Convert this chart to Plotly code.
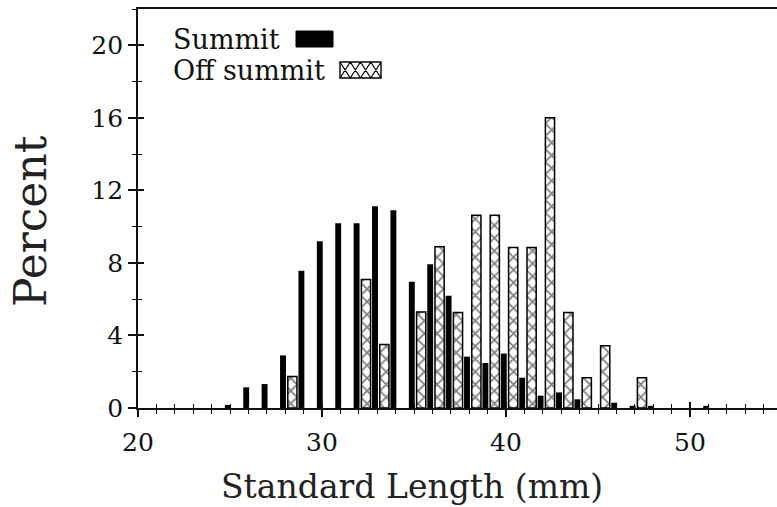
import plotly.graph_objects as go

# ---- data ----
lengths = list(range(25, 52))  # standard length bins, mm
summit_pct = [0.17, 1.14, 1.32, 2.9, 7.57, 9.2, 10.18, 10.18, 11.13, 10.9,
              6.96, 7.93, 6.19, 2.83, 2.48, 3.0, 1.67, 0.68, 0.86, 0.48,
              None, 0.29, 0.12, 0.12, None, None, 0.12]
off_summit_pct = [None, None, None, 1.73, None, None, None, 7.09, 3.5, None,
                  5.3, 8.89, 5.27, 10.63, 10.63, 8.85, 8.85, 16.0, 5.27, 1.67,
                  3.43, None, 1.67, None, None, None, None]
series_names = ["Summit", "Off summit"]
x_tickvals = [20, 30, 40, 50]
y_tickvals = [0, 4, 8, 12, 16, 20]

FONT = "DejaVu Serif"
W, H = 777, 507
ML, MR, MT, MB = 138, 0, 9, 507 - 408
PW, PH = W - ML - MR, H - MT - MB


def px(xp):  # page pixel -> paper fraction
    return (xp - ML) / PW


def py(yp):
    return (H - MB - yp) / PH


fig = go.Figure()
fig.add_trace(go.Bar(
    x=lengths, y=summit_pct, name=series_names[0],
    offset=-0.28, width=0.32,
    marker=dict(color="black", line=dict(width=0)),
    showlegend=False,
))
fig.add_trace(go.Bar(
    x=lengths, y=off_summit_pct, name=series_names[1],
    offset=0.14, width=0.5,
    marker=dict(color="white",
                line=dict(color="black", width=1.5),
                pattern=dict(shape="x", fgcolor="black", bgcolor="white",
                             size=9, solidity=0.35)),
    showlegend=False,
))
# helper trace for the overlay axes (inner halves of the crossing ticks)
fig.add_trace(go.Scatter(x=[None], y=[None], xaxis="x2", yaxis="y2",
                         showlegend=False, hoverinfo="skip"))

tickfont = dict(family=FONT, size=25, color="#111")
xr = [20, 20 + PW / 18.4]
yr = [0, 22]

fig.update_layout(
    width=W, height=H,
    margin=dict(l=ML, r=MR, t=MT, b=MB, autoexpand=False),
    paper_bgcolor="white", plot_bgcolor="white",
    barmode="overlay",
    xaxis=dict(range=xr, tickmode="array", tickvals=x_tickvals,
               ticks="outside", ticklen=7, tickwidth=1.5, tickcolor="#111",
               minor=dict(ticks="outside", ticklen=4, tickwidth=1.2,
                          tickcolor="#111", dtick=1, tick0=20, showgrid=False),
               showline=True, linecolor="#111", linewidth=1.8, mirror=True,
               showgrid=False, zeroline=False, tickfont=tickfont,
               automargin=False, ticklabelstandoff=4),
    yaxis=dict(range=yr, tickmode="array", tickvals=y_tickvals,
               ticks="outside", ticklen=8, tickwidth=1.5, tickcolor="#111",
               minor=dict(ticks="outside", ticklen=4, tickwidth=1.2,
                          tickcolor="#111", dtick=2, tick0=0, showgrid=False),
               showline=True, linecolor="#111", linewidth=1.8,
               showgrid=False, zeroline=False, tickfont=tickfont,
               automargin=False),
    xaxis2=dict(range=xr, overlaying="x", anchor="y", side="bottom",
                tickmode="array", tickvals=x_tickvals,
                ticks="inside", ticklen=6, tickwidth=1.5, tickcolor="#111",
                minor=dict(ticks="inside", ticklen=4, tickwidth=1.2,
                           tickcolor="#111", dtick=1, tick0=20, showgrid=False),
                showticklabels=False, showline=False, showgrid=False,
                zeroline=False),
    yaxis2=dict(range=yr, overlaying="y", anchor="x", side="left",
                tickmode="array", tickvals=y_tickvals,
                ticks="inside", ticklen=6, tickwidth=1.5, tickcolor="#111",
                minor=dict(ticks="inside", ticklen=4, tickwidth=1.2,
                           tickcolor="#111", dtick=2, tick0=0, showgrid=False),
                showticklabels=False, showline=False, showgrid=False,
                zeroline=False),
)

annotations = [
    dict(text="Percent", x=px(30), y=py(221), xref="paper", yref="paper",
         textangle=-90, showarrow=False, xanchor="center", yanchor="middle",
         borderpad=0,
         font=dict(family=FONT, size=44, color="#222")),
    dict(text="Standard Length (mm)", x=px(412), y=py(486), xref="paper",
         yref="paper", showarrow=False, xanchor="center", yanchor="middle",
         font=dict(family=FONT, size=33, color="#222")),
    dict(text=series_names[0], x=px(171), y=py(39), xref="paper", yref="paper",
         showarrow=False, xanchor="left", yanchor="middle",
         font=dict(family=FONT, size=27, color="#111")),
    dict(text=series_names[1], x=px(171), y=py(70), xref="paper", yref="paper",
         showarrow=False, xanchor="left", yanchor="middle",
         font=dict(family=FONT, size=27, color="#111")),
]
fig.update_layout(annotations=annotations)

# legend swatches
shapes = [dict(type="rect", xref="paper", yref="paper",
               x0=px(296), x1=px(333), y0=py(47), y1=py(31),
               fillcolor="black", line=dict(color="black", width=1))]
bx0, bx1, by0, by1 = 340, 381, 62, 78
cell = (bx1 - bx0) / 4
path = ""
for i in range(4):
    a = bx0 + i * cell
    b = a + cell
    path += f"M{px(a)},{py(by0)} L{px(b)},{py(by1)} "
    path += f"M{px(a)},{py(by1)} L{px(b)},{py(by0)} "
shapes.append(dict(type="path", xref="paper", yref="paper", path=path,
                   line=dict(color="black", width=1.2)))
shapes.append(dict(type="rect", xref="paper", yref="paper",
                   x0=px(bx0), x1=px(bx1), y0=py(by1), y1=py(by0),
                   fillcolor="rgba(0,0,0,0)", line=dict(color="black", width=1.4)))
fig.update_layout(shapes=shapes)

fig.write_html("out.html",
               config={"displayModeBar": False},
               post_script="document.body.style.margin='0';"
                           "document.body.style.overflow='hidden';")
